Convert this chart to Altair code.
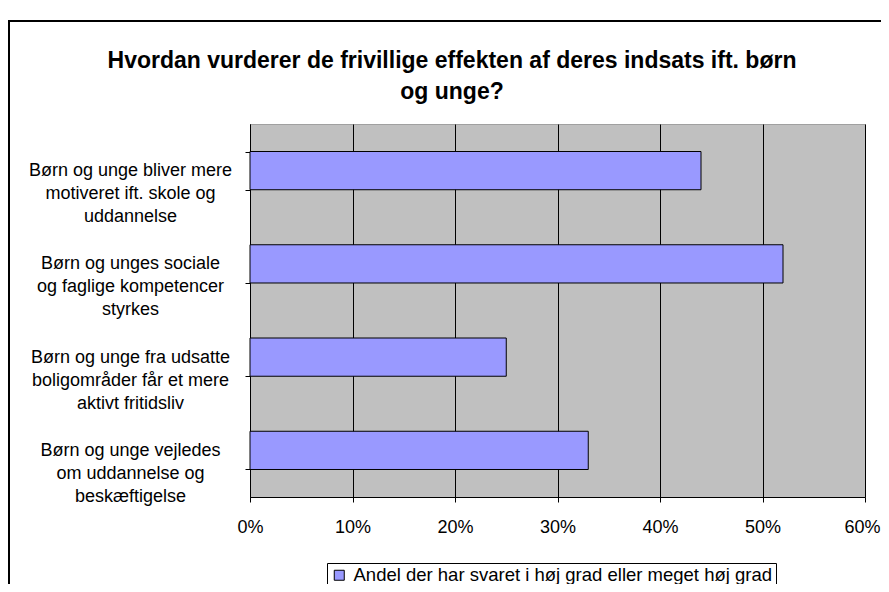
import altair as alt
import pandas as pd

categories = [
    "Børn og unge bliver mere|motiveret ift. skole og|uddannelse",
    "Børn og unges sociale|og faglige kompetencer|styrkes",
    "Børn og unge fra udsatte|boligområder får et mere|aktivt fritidsliv",
    "Børn og unge vejledes|om uddannelse og|beskæftigelse",
]
values = [0.44, 0.52, 0.25, 0.33]
series_name = "Andel der har svaret i høj grad eller meget høj grad"
x_ticks = [0, 0.1, 0.2, 0.3, 0.4, 0.5, 0.6]
title_lines = ["Hvordan vurderer de frivillige effekten af deres indsats ift. børn", "og unge?"]

df = pd.DataFrame({"kategori": categories, "andel": values, "serie": [series_name] * len(categories)})

FONT = "Liberation Sans"

bars = alt.Chart(df).mark_bar(stroke="black", strokeWidth=1).encode(
    x=alt.X(
        "andel:Q",
        scale=alt.Scale(domain=[0, 0.6], nice=False),
        axis=alt.Axis(
            values=x_ticks, format=".0%", title=None, grid=True, gridColor="#000000", gridWidth=1,
            domainColor="#000000", domainWidth=1, tickColor="#000000", tickSize=5,
            labelFont=FONT, labelFontSize=18, labelColor="#000000", labelPadding=16,
            labelFlush=False,
            labelOffset={"condition": {"test": "datum.value >= 0.6", "value": -3}, "value": 0},
        ),
    ),
    y=alt.Y(
        "kategori:N",
        sort=categories,
        scale=alt.Scale(paddingInner=0.59, paddingOuter=0.295),
        axis=alt.Axis(
            title=None, grid=False, tickBand="extent", domainColor="#000000", domainWidth=1,
            tickColor="#000000", tickSize=5, labelFont=FONT, labelFontSize=18,
            labelColor="#000000", labelAlign="center", labelBaseline="middle",
            labelPadding=115, labelLimit=400, labelLineHeight=23,
            labelExpr="split(datum.label, '|')",
        ),
    ),
    color=alt.Color(
        "serie:N",
        scale=alt.Scale(domain=[series_name], range=["#9999FF"]),
        legend=alt.Legend(
            title=None, orient="none", legendX=77, legendY=439,
            strokeColor="#000000", fillColor="#FFFFFF", padding=3,
            symbolType="square", symbolSize=100, symbolStrokeColor="#000000",
            symbolStrokeWidth=1, labelFont=FONT, labelFontSize=18.5, labelColor="#000000",
            labelLimit=700, labelOffset=5,
        ),
    ),
)

border = alt.Chart(pd.DataFrame({"a": [0]})).mark_rect(
    fill="transparent", stroke="#000000", strokeWidth=2
).encode(x=alt.value(-241), x2=alt.value(700), y=alt.value(-103), y2=alt.value(520))

title = alt.Chart(pd.DataFrame({"t": [0]})).mark_text(
    font=FONT, fontSize=23, fontWeight="bold", color="#000000",
    align="center", baseline="middle", lineHeight=31,
).encode(text=alt.value(title_lines), x=alt.value(202), y=alt.value(-63.5))

chart = alt.layer(border, bars, title).properties(
    width=615,
    height=373,
    background="#FFFFFF",
    autosize=alt.AutoSizeParams(type="none"),
    padding={"left": 242, "top": 116, "right": 16, "bottom": 87},
).configure_view(
    fill="#C0C0C0", stroke="#A0A0A0", strokeWidth=1
)

chart.save("out.html", embed_options={"renderer": "svg", "actions": False})
